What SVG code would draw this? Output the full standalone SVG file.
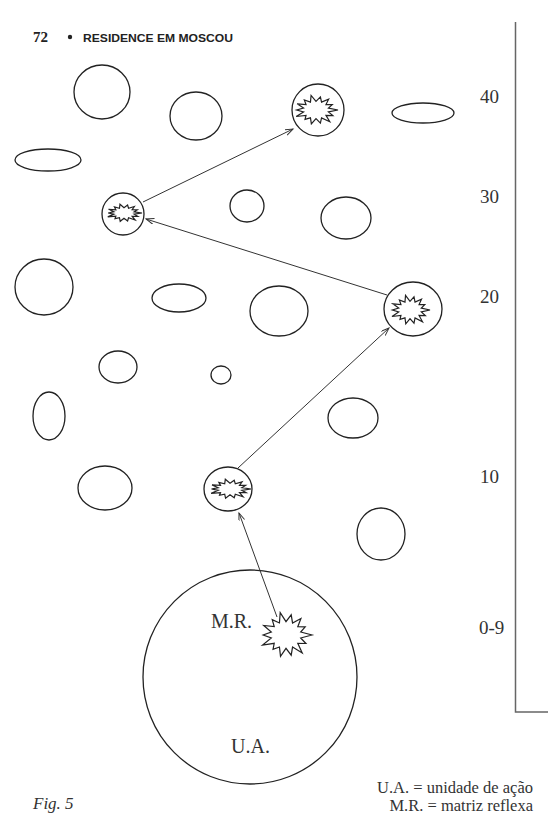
<svg xmlns="http://www.w3.org/2000/svg" width="548" height="816" viewBox="0 0 548 816">
<style>
.c{fill:none;stroke:#222;stroke-width:1.3}
.s{fill:none;stroke:#222;stroke-width:1.2}
.a{fill:none;stroke:#333;stroke-width:1}
.t{font-family:"Liberation Serif","Times New Roman",serif;fill:#333}
.n{font-size:19px}
.l{font-size:16.5px}
</style>
<defs>
<path id="star" vector-effect="non-scaling-stroke" d="M100,0 L56.5,12.9 L76.6,36.9 L45.3,36.2 L62.4,78.2 L25.2,52.3 L20,87.7 L0,58 L-21.1,92.6 L-25.2,52.3 L-49.9,62.5 L-45.3,36.2 L-90.1,43.4 L-56.5,12.9 L-88,0 L-56.5,-12.9 L-85.6,-41.2 L-45.3,-36.2 L-53,-66.5 L-25.2,-52.3 L-22.3,-97.5 L0,-58 L20,-87.7 L25.2,-52.3 L57.4,-71.9 L45.3,-36.2 L73.9,-35.6 L56.5,-12.9 Z"/>
<marker id="ah" markerWidth="10" markerHeight="8" refX="8" refY="3" orient="auto" markerUnits="userSpaceOnUse">
<path d="M0,0 L8,3 L0,6" fill="none" stroke="#333" stroke-width="1"/>
</marker>
</defs>
<rect width="548" height="816" fill="#fff"/>
<g id="header">
<text x="33" y="42" font-family="Liberation Serif,serif" font-weight="bold" font-size="15" fill="#222">72</text>
<circle cx="70" cy="37" r="2.2" fill="#222"/>
<text x="83" y="42" font-family="Liberation Sans,Arial,sans-serif" font-weight="bold" font-size="11.5" fill="#222" textLength="150" lengthAdjust="spacingAndGlyphs">RESIDENCE EM MOSCOU</text>
</g>
<g id="scale">
<path d="M515.5,22 V712 H548" fill="none" stroke="#666" stroke-width="1.5"/>
<text class="t n" x="480" y="103">40</text>
<text class="t n" x="480" y="203">30</text>
<text class="t n" x="480" y="303">20</text>
<text class="t n" x="480" y="483">10</text>
<text class="t n" x="479" y="634">0-9</text>
</g>
<g id="n1"><ellipse class="c" cx="102" cy="92" rx="28" ry="27"/></g>
<g id="n2"><ellipse class="c" cx="196" cy="116" rx="26" ry="24"/></g>
<g id="n40"><circle class="c" cx="318" cy="110" r="26"/><use href="#star" class="s" transform="translate(316,110) scale(0.22,0.15)"/></g>
<g id="n3"><ellipse class="c" cx="423" cy="113" rx="31" ry="10"/></g>
<g id="n4"><ellipse class="c" cx="48" cy="160" rx="33" ry="11"/></g>
<g id="n30"><circle class="c" cx="123" cy="214" r="21"/><use href="#star" class="s" transform="translate(124,213) scale(0.18,0.09)"/></g>
<g id="n5"><ellipse class="c" cx="247" cy="206" rx="17" ry="16"/></g>
<g id="n6"><ellipse class="c" cx="346" cy="218" rx="25" ry="21"/></g>
<g id="n7"><ellipse class="c" cx="44" cy="287" rx="29" ry="28"/></g>
<g id="n8"><ellipse class="c" cx="179" cy="298" rx="27" ry="14"/></g>
<g id="n9"><ellipse class="c" cx="279" cy="311" rx="29" ry="25"/></g>
<g id="n20"><ellipse class="c" cx="413" cy="309" rx="29" ry="27"/><use href="#star" class="s" transform="translate(410,310) scale(0.20,0.15)"/></g>
<g id="n10"><ellipse class="c" cx="118" cy="367" rx="19" ry="16"/></g>
<g id="n11"><ellipse class="c" cx="221" cy="375" rx="10" ry="9"/></g>
<g id="n12"><ellipse class="c" cx="49" cy="416" rx="16" ry="24"/></g>
<g id="n13"><ellipse class="c" cx="353" cy="418" rx="25" ry="20"/></g>
<g id="n14"><ellipse class="c" cx="105" cy="488" rx="27" ry="22"/></g>
<g id="n10s"><ellipse class="c" cx="228" cy="489" rx="24" ry="22"/><use href="#star" class="s" transform="translate(230,489) scale(0.21,0.10)"/></g>
<g id="n15"><ellipse class="c" cx="381" cy="534" rx="24" ry="26"/></g>
<g id="ua">
<circle class="c" cx="250" cy="677" r="107"/>
<use href="#star" class="s" transform="translate(286,635) scale(0.26,0.23)"/>
<text class="t" x="211" y="628" font-size="20">M.R.</text>
<text class="t" x="231" y="753" font-size="20">U.A.</text>
</g>
<g id="connectors">
<line class="a" x1="277" y1="617" x2="239" y2="513" marker-end="url(#ah)"/>
<line class="a" x1="238" y1="468" x2="389" y2="328" marker-end="url(#ah)"/>
<line class="a" x1="387" y1="295" x2="146" y2="219" marker-end="url(#ah)"/>
<line class="a" x1="143" y1="202" x2="293" y2="129" marker-end="url(#ah)"/>
</g>
<g id="legend">
<text class="t l" x="533" y="793" text-anchor="end">U.A. = unidade de ação</text>
<text class="t l" x="533" y="811" text-anchor="end">M.R. = matriz reflexa</text>
<text class="t" x="33" y="809" font-size="17" font-style="italic">Fig. 5</text>
</g>
</svg>
